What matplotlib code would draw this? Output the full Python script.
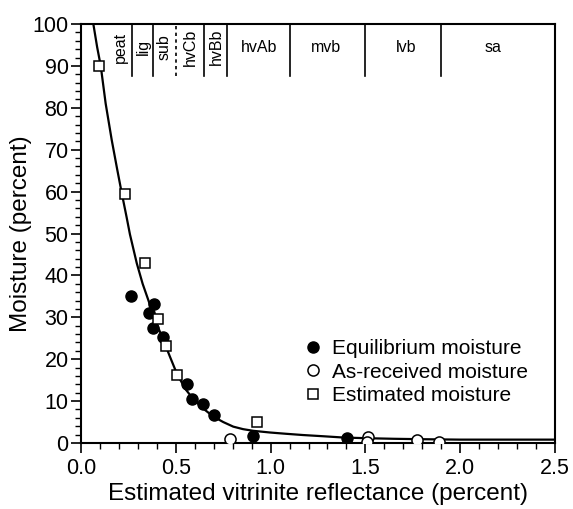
import matplotlib.pyplot as plt
from matplotlib.ticker import MultipleLocator

plt.rcParams['font.family'] = ['Liberation Sans', 'DejaVu Sans']

# equilibrium moisture (filled circles)
eq_x = [0.264, 0.387, 0.359, 0.381, 0.434, 0.557, 0.587, 0.645, 0.703, 0.905, 1.401]
eq_y = [35.2, 33.1, 31.0, 27.4, 25.4, 14.1, 10.4, 9.2, 6.7, 1.7, 1.3]

# as-received moisture (open circles)
ar_x = [0.786, 1.512, 1.507, 1.77, 1.888]
ar_y = [0.9, 1.5, 0.3, 0.7, 0.3]

# estimated moisture (open squares)
est_x = [0.097, 0.232, 0.338, 0.404, 0.448, 0.505, 0.927]
est_y = [90.0, 59.4, 42.9, 29.5, 23.2, 16.2, 4.9]

# fitted curve
curve_x = [0.055, 0.065, 0.085, 0.104, 0.13, 0.162, 0.19, 0.215, 0.24, 0.258, 0.294, 0.325,
           0.355, 0.39, 0.434, 0.469, 0.505, 0.55, 0.592, 0.645, 0.698, 0.75, 0.803, 0.855,
           0.909, 0.997, 1.08, 1.17, 1.28, 1.384, 1.5, 1.65, 1.8, 2.0, 2.2, 2.5]
curve_y = [103.0, 100.0, 94.5, 90.0, 81.0, 72.3, 65.5, 59.6, 54.0, 49.8, 42.9, 38.0,
           34.1, 29.4, 24.6, 20.6, 16.6, 12.9, 10.5, 8.2, 6.3, 5.0, 3.9, 3.3,
           2.9, 2.5, 2.2, 1.9, 1.6, 1.3, 1.15, 1.0, 0.9, 0.8, 0.8, 0.8]

# rank boundaries and labels
bounds = [0.27, 0.38, 0.5, 0.65, 0.77, 1.1, 1.5, 1.9]
bound_dashed = [False, False, True, False, False, False, False, False]
rank_labels = ['peat', 'lig', 'sub', 'hvCb', 'hvBb', 'hvAb', 'mvb', 'lvb', 'sa']
rank_x = [0.206, 0.327, 0.44, 0.575, 0.716, 0.939, 1.29, 1.713, 2.175]
rank_rot = [90, 90, 90, 90, 90, 0, 0, 0, 0]

fig = plt.figure(figsize=(5.73, 5.09), dpi=100)
ax = fig.add_axes([0.1414, 0.1297, 0.8272, 0.8231])

ax.plot(curve_x, curve_y, color='black', lw=1.6, zorder=2)
ax.plot(eq_x, eq_y, 'o', ms=8, mfc='black', mec='black', label='Equilibrium moisture', zorder=3)
ax.plot(ar_x, ar_y, 'o', ms=8, mfc='white', mec='black', mew=1.1, label='As-received moisture', zorder=3)
ax.plot(est_x, est_y, 's', ms=7.5, mfc='white', mec='black', mew=1.1, label='Estimated moisture', zorder=3)

for b, d in zip(bounds, bound_dashed):
    ax.plot([b, b], [87.5, 100], color='black', lw=1.2, ls=(0, (2, 2)) if d else '-', zorder=1)

for lab, x, r in zip(rank_labels, rank_x, rank_rot):
    ax.text(x, 94.5, lab, rotation=r, ha='center', va='center', fontsize=11.5)

ax.set_xlim(0, 2.5)
ax.set_ylim(0, 100)
ax.xaxis.set_major_locator(MultipleLocator(0.5))
ax.xaxis.set_minor_locator(MultipleLocator(0.1))
ax.yaxis.set_major_locator(MultipleLocator(10))
ax.yaxis.set_minor_locator(MultipleLocator(2))
ax.xaxis.set_major_formatter(plt.FormatStrFormatter('%.1f'))
ax.tick_params(which='major', length=7, width=1.2, labelsize=15.5, direction='out')
ax.tick_params(which='minor', length=4, width=1.0, direction='out')
ax.tick_params(axis='y', pad=2)
ax.tick_params(axis='x', pad=4)
for s in ax.spines.values():
    s.set_linewidth(1.5)

ax.set_xlabel('Estimated vitrinite reflectance (percent)', fontsize=17.5, labelpad=3)
ax.set_ylabel('Moisture (percent)', fontsize=17.5, labelpad=0)

ax.legend(loc='upper left', bbox_to_anchor=(0.45, 0.268), frameon=False, fontsize=15,
          handletextpad=0.4, labelspacing=0.22, handlelength=1.0, borderaxespad=0)

plt.savefig('out.png', dpi=100)
